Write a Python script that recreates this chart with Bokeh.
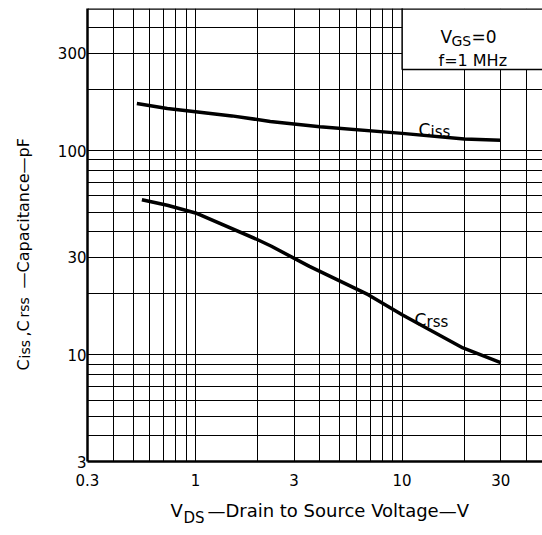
import math
from bokeh.plotting import figure
from bokeh.models import (FixedTicker, Label, Span, Range1d, LinearAxis,
                          LinearScale)
from bokeh.embed import file_html
from bokeh.resources import INLINE

# ---------------- data ----------------
vds_ciss = [0.52, 0.73, 1.0, 1.5, 2.3, 4.0, 10, 20, 30]
ciss_pf = [170, 161, 155, 148, 139, 131, 121.5, 114, 112.5]

vds_crss = [0.55, 0.73, 1.0, 2.0, 2.33, 3.56, 6.85, 10, 19.7, 30]
crss_pf = [57.5, 54, 49.5, 36.6, 34, 27.1, 19.7, 15.7, 10.8, 9.15]

x_tick_values = [0.3, 1, 3, 10, 30]
x_tick_labels = ["0.3", "1", "3", "10", "30"]
y_tick_values = [3, 10, 30, 100, 300]
y_tick_labels = ["3", "10", "30", "100", "300"]

x_grid_values = [0.3, 0.4, 0.5, 0.6, 0.7, 0.8, 0.9,
                 1, 2, 3, 4, 5, 6, 7, 8, 9,
                 10, 20, 30, 40]
y_grid_values = [4, 5, 6, 7, 8, 9,
                 10, 20, 30, 40, 50, 60, 70, 80, 90,
                 100, 200, 300, 400]

x_start, x_end = 0.3, 47.8
y_start, y_end = 3, 497

# legend box region (data units)
box_left, box_bottom = 10, 250

FONT = "DejaVu Sans"
W, H = 542, 535
FRAME_LEFT_PX, FRAME_TOP_PX, FRAME_BOTTOM_PX = 87, 8, 461

p = figure(width=W, height=H,
           x_axis_type="log", y_axis_type="log",
           x_range=Range1d(x_start, x_end), y_range=Range1d(y_start, y_end),
           output_backend="svg", toolbar_location=None,
           min_border_left=FRAME_LEFT_PX, min_border_right=0,
           min_border_top=FRAME_TOP_PX, min_border_bottom=H - FRAME_BOTTOM_PX)

p.outline_line_color = None
p.background_fill_color = "white"
p.border_fill_color = "white"


def strip_ticks(ax):
    ax.major_tick_line_color = None
    ax.minor_tick_line_color = None
    ax.major_tick_out = 0
    ax.major_tick_in = 0
    ax.minor_tick_out = 0
    ax.minor_tick_in = 0


for ax in (p.xaxis[0], p.yaxis[0]):
    strip_ticks(ax)
    ax.axis_line_color = "black"
    ax.axis_line_width = 2.5
    ax.major_label_text_font = FONT
    ax.major_label_text_font_size = "15px"
    ax.major_label_text_color = "black"

p.xaxis.ticker = FixedTicker(ticks=x_tick_values)
p.xaxis.major_label_overrides = {v: t for v, t in zip(x_tick_values, x_tick_labels)}
p.xaxis.major_label_standoff = 12
p.yaxis.ticker = FixedTicker(ticks=y_tick_values)
p.yaxis.major_label_overrides = {v: t for v, t in zip(y_tick_values, y_tick_labels)}
p.yaxis.major_label_standoff = 1

p.xgrid.ticker = FixedTicker(ticks=x_grid_values)
p.ygrid.ticker = FixedTicker(ticks=y_grid_values)
for g in (p.xgrid[0], p.ygrid[0]):
    g.grid_line_color = "black"
    g.grid_line_alpha = 1.0
    g.grid_line_width = 1

# top border of the frame
p.add_layout(Span(location=y_end, dimension="width", line_color="black", line_width=2.5))

# white legend box covering the grid in the top-right corner
p.quad(left=[box_left], right=[x_end * 10], bottom=[box_bottom], top=[y_end * 10],
       fill_color="white", line_color="black", line_width=1.5)

# curves
p.line(vds_ciss, ciss_pf, line_color="black", line_width=3.5, line_join="round")
p.line(vds_crss, crss_pf, line_color="black", line_width=3.5, line_join="round")


# ---------------- text inside the frame (page pixels) ----------------
def txt(text, ix, iy, size):
    p.add_layout(Label(x=ix - FRAME_LEFT_PX, y=FRAME_BOTTOM_PX - iy,
                       x_units="screen", y_units="screen",
                       text=text, text_font=FONT, text_font_size=f"{size}px",
                       text_color="black", text_align="left",
                       text_baseline="alphabetic"))


txt("C", 418, 129, 17)
txt("iss", 430, 131, 15)
txt("C", 414, 319, 17)
txt("rss", 426, 321, 15)

txt("V", 440, 36, 17)
txt("GS", 451, 40, 14)
txt("=0", 471, 36, 17)
txt("f=1 MHz", 438, 60, 16)

# ---------------- axis titles as label-only axes (page-pixel scales) ----------------
p.extra_x_ranges = {"tx": Range1d(FRAME_LEFT_PX, W)}
p.extra_x_scales = {"tx": LinearScale()}
p.extra_y_ranges = {"ty": Range1d(FRAME_BOTTOM_PX, FRAME_TOP_PX)}
p.extra_y_scales = {"ty": LinearScale()}


def title_axis(side, pieces, size, standoff):
    ticks = [c for c, _ in pieces]
    labels = {c: t for c, t in pieces}
    if side == "below":
        ax = LinearAxis(x_range_name="tx")
    else:
        ax = LinearAxis(y_range_name="ty")
        ax.major_label_orientation = math.pi / 2
    ax.ticker = FixedTicker(ticks=ticks)
    ax.major_label_overrides = labels
    ax.major_label_standoff = standoff
    ax.major_label_text_font = FONT
    ax.major_label_text_font_size = f"{size}px"
    ax.major_label_text_color = "black"
    ax.axis_line_color = None
    strip_ticks(ax)
    p.add_layout(ax, side)


# x title: V_DS — Drain to Source Voltage — V   (tick = text centre)
title_axis("below", [(176.2, "V"), (337.7, "\u2014Drain to Source Voltage\u2014V")], 18, 11)
title_axis("below", [(193.5, "DS")], 15, -15)

# y title: C_iss, C_rss — Capacitance — pF  (rotated; tick = upper end of text)
title_axis("left", [(358.8, "C"), (319.7, ",C"), (137.6, "\u2014Capacitance\u2014pF")], 16, 31)
title_axis("left", [(339.5, "iss"), (296.7, "rss")], 14, -23)

open("out.html", "w").write(file_html(p, INLINE))
